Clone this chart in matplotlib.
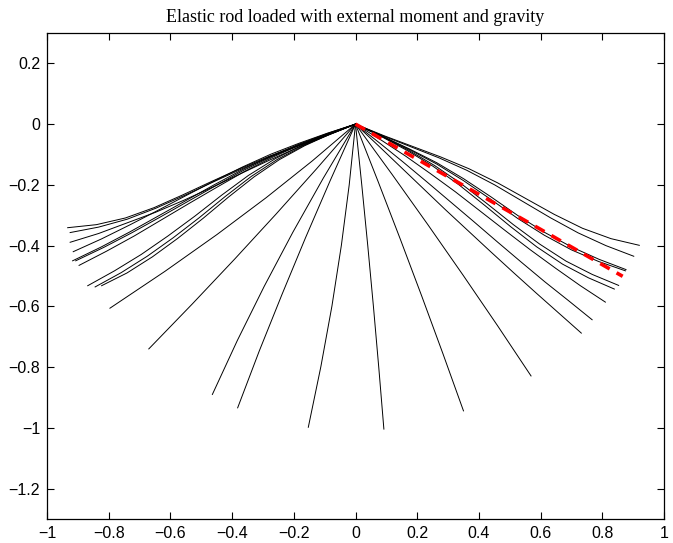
import matplotlib
matplotlib.use("Agg")
import matplotlib.pyplot as plt

title = "Elastic rod loaded with external moment and gravity"
xticks = [-1, -0.8, -0.6, -0.4, -0.2, 0, 0.2, 0.4, 0.6, 0.8, 1]
yticks = [-1.2, -1, -0.8, -0.6, -0.4, -0.2, 0, 0.2]
xlim = (-1, 1)
ylim = (-1.3, 0.3)

# Rod shapes (x, y)
rods = [
    # upper-left bundle
    ([0, -0.093, -0.187, -0.28, -0.373, -0.467, -0.56, -0.653, -0.746, -0.84, -0.933],
     [0, -0.036, -0.071, -0.106, -0.146, -0.189, -0.233, -0.275, -0.309, -0.331, -0.341]),
    ([0, -0.0925, -0.185, -0.2775, -0.37, -0.4625, -0.555, -0.6475, -0.74, -0.8325, -0.925],
     [0, -0.037, -0.072, -0.108, -0.148, -0.191, -0.235, -0.277, -0.313, -0.339, -0.357]),
    ([0, -0.0925, -0.185, -0.2775, -0.37, -0.4625, -0.555, -0.6475, -0.74, -0.8325, -0.925],
     [0, -0.038, -0.076, -0.118, -0.162, -0.207, -0.25, -0.29, -0.325, -0.36, -0.389]),
    # middle-left bundle
    ([0, -0.0915, -0.183, -0.2745, -0.366, -0.4575, -0.549, -0.6405, -0.732, -0.8235, -0.915],
     [0, -0.030, -0.063, -0.099, -0.141, -0.187, -0.235, -0.284, -0.332, -0.378, -0.42]),
    ([0, -0.0917, -0.1834, -0.2751, -0.3668, -0.4585, -0.5502, -0.6419, -0.7336, -0.8253, -0.917],
     [0, -0.031, -0.066, -0.105, -0.150, -0.200, -0.252, -0.304, -0.356, -0.405, -0.45]),
    ([0, -0.0907, -0.1814, -0.2721, -0.3628, -0.4535, -0.5442, -0.6349, -0.7256, -0.8163, -0.907],
     [0, -0.032, -0.067, -0.107, -0.152, -0.203, -0.255, -0.307, -0.358, -0.406, -0.45]),
    ([0, -0.0896, -0.1792, -0.2688, -0.3584, -0.448, -0.5376, -0.6272, -0.7168, -0.8064, -0.896],
     [0, -0.032, -0.068, -0.109, -0.155, -0.207, -0.260, -0.314, -0.368, -0.418, -0.465]),
    # lower-left bundle
    ([0, -0.0868, -0.1736, -0.2604, -0.3472, -0.434, -0.5208, -0.6076, -0.6944, -0.7812, -0.868],
     [0, -0.033, -0.070, -0.114, -0.169, -0.234, -0.303, -0.368, -0.429, -0.483, -0.532]),
    ([0, -0.0844, -0.1688, -0.2532, -0.3376, -0.422, -0.5064, -0.5908, -0.6752, -0.7596, -0.844],
     [0, -0.033, -0.071, -0.116, -0.172, -0.238, -0.308, -0.374, -0.435, -0.489, -0.536]),
    ([0, -0.0823, -0.1646, -0.2469, -0.3292, -0.4115, -0.4938, -0.5761, -0.6584, -0.7407, -0.823],
     [0, -0.033, -0.071, -0.117, -0.174, -0.240, -0.310, -0.376, -0.437, -0.490, -0.532]),
    # lower fan
    ([0, -0.1402, -0.2899, -0.4492, -0.6179, -0.796],
     [0, -0.1212, -0.2424, -0.3636, -0.4848, -0.606]),
    ([0, -0.127, -0.2574, -0.3914, -0.529, -0.67],
     [0, -0.148, -0.296, -0.444, -0.592, -0.74]),
    ([0, -0.1045, -0.2031, -0.2959, -0.3829, -0.464],
     [0, -0.178, -0.356, -0.534, -0.712, -0.890]),
    ([0, -0.0825, -0.162, -0.238, -0.312, -0.382],
     [0, -0.187, -0.374, -0.560, -0.747, -0.934]),
    ([0, -0.0204, -0.0458, -0.0764, -0.1122, -0.153],
     [0, -0.2, -0.399, -0.599, -0.798, -0.998]),
    ([0, 0.0204, 0.0399, 0.0583, 0.0756, 0.092],
     [0, -0.2008, -0.4016, -0.6024, -0.8032, -1.004]),
    ([0, 0.0732, 0.1448, 0.2148, 0.2832, 0.35],
     [0, -0.1888, -0.3776, -0.5664, -0.7552, -0.944]),
    ([0, 0.1188, 0.235, 0.3488, 0.4602, 0.569],
     [0, -0.1658, -0.3316, -0.4974, -0.6632, -0.829]),
    # right side
    ([0, 0.0732, 0.1464, 0.2196, 0.2928, 0.366, 0.4392, 0.5124, 0.5856, 0.6588, 0.732],
     [0, -0.070, -0.141, -0.212, -0.283, -0.352, -0.421, -0.489, -0.556, -0.622, -0.688]),
    ([0, 0.0767, 0.1534, 0.2301, 0.3068, 0.3835, 0.4602, 0.5369, 0.6136, 0.6903, 0.767],
     [0, -0.061, -0.124, -0.189, -0.255, -0.321, -0.388, -0.454, -0.519, -0.581, -0.644]),
    ([0, 0.081, 0.162, 0.243, 0.324, 0.405, 0.486, 0.567, 0.648, 0.729, 0.81],
     [0, -0.051, -0.105, -0.163, -0.223, -0.287, -0.351, -0.414, -0.474, -0.532, -0.586]),
    ([0, 0.0839, 0.1678, 0.2517, 0.3356, 0.4195, 0.5034, 0.5873, 0.6712, 0.7551, 0.839],
     [0, -0.041, -0.087, -0.139, -0.2, -0.268, -0.338, -0.404, -0.461, -0.506, -0.543]),
    ([0, 0.0853, 0.1706, 0.2559, 0.3412, 0.4265, 0.5118, 0.5971, 0.6824, 0.7677, 0.853],
     [0, -0.040, -0.085, -0.136, -0.195, -0.262, -0.331, -0.395, -0.451, -0.495, -0.531]),
    ([0, 0.0875, 0.175, 0.2625, 0.35, 0.4375, 0.525, 0.6125, 0.7, 0.7875, 0.875],
     [0, -0.041, -0.084, -0.131, -0.186, -0.247, -0.310, -0.366, -0.414, -0.452, -0.483]),
    ([0, 0.0877, 0.1754, 0.2631, 0.3508, 0.4385, 0.5262, 0.6139, 0.7016, 0.7893, 0.877],
     [0, -0.040, -0.082, -0.127, -0.180, -0.239, -0.301, -0.357, -0.405, -0.445, -0.479]),
    ([0, 0.0902, 0.1804, 0.2706, 0.3608, 0.451, 0.5412, 0.6314, 0.7216, 0.8118, 0.902],
     [0, -0.039, -0.075, -0.111, -0.152, -0.2, -0.254, -0.308, -0.358, -0.4, -0.435]),
    ([0, 0.092, 0.184, 0.276, 0.368, 0.46, 0.552, 0.644, 0.736, 0.828, 0.92],
     [0, -0.038, -0.073, -0.108, -0.147, -0.193, -0.245, -0.297, -0.343, -0.377, -0.399]),
]

red_x = [0, 0.2, 0.4, 0.6, 0.866]
red_y = [0, -0.1155, -0.231, -0.3465, -0.501]

fig = plt.figure(figsize=(6.73, 5.43), dpi=100)
ax = fig.add_axes([47 / 673, 24 / 543, 617 / 673, 486 / 543])

for rx, ry in rods:
    ax.plot(rx, ry, color="black", lw=0.7, solid_joinstyle="round")
ax.plot(red_x, red_y, color="red", lw=2.6, ls=(0, (3, 2.2)))

ax.set_xlim(*xlim)
ax.set_ylim(*ylim)
ax.set_xticks(xticks)
ax.set_yticks(yticks)
ax.set_xticklabels([("%g" % t).replace("-", "\u2212") for t in xticks])
ax.set_yticklabels([("%g" % t).replace("-", "\u2212") for t in yticks])
ax.tick_params(direction="in", length=5, width=0.8, top=True, right=True,
               labelsize=11.5, pad=5)
for lab in ax.get_xticklabels() + ax.get_yticklabels():
    lab.set_family("Liberation Sans")
for s in ax.spines.values():
    s.set_linewidth(0.9)
ax.set_title(title, family="Liberation Serif", fontsize=13, pad=8)

fig.savefig("out.png", dpi=100)
